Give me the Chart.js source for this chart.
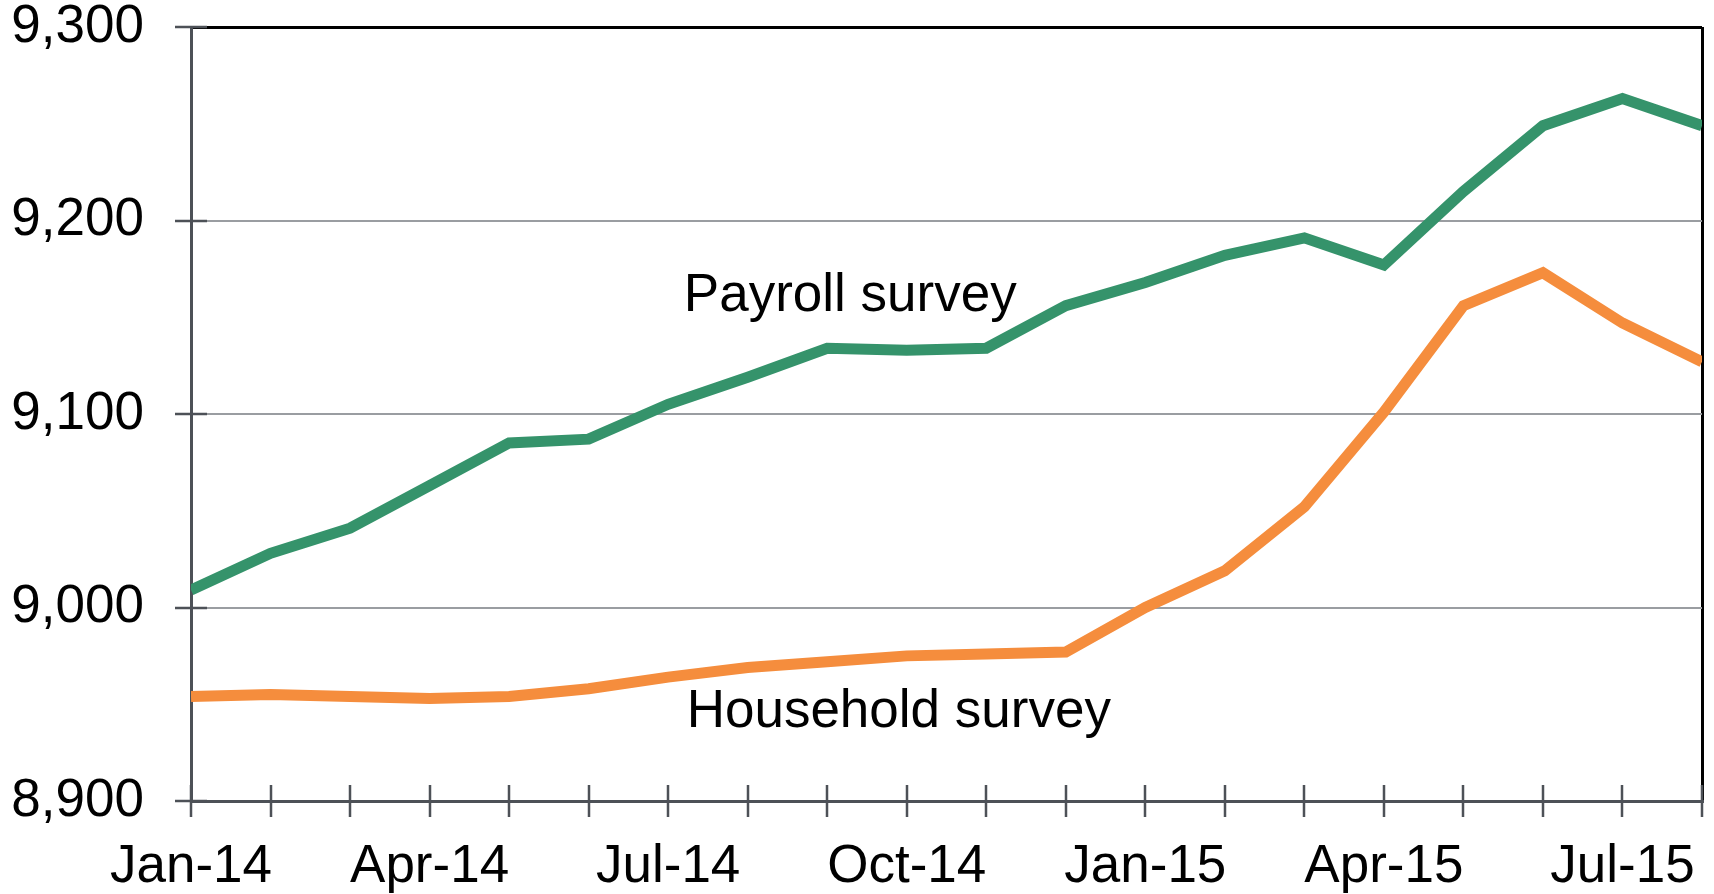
<!DOCTYPE html>
<html>
<head>
<meta charset="utf-8">
<script src="https://cdn.jsdelivr.net/npm/chart.js@4.4.1/dist/chart.umd.min.js"></script>
<style>
  html, body { margin: 0; padding: 0; background: #fff; }
  .chart-container { width: 1714px; height: 894px; position: relative; }
</style>
</head>
<body>
<div class="chart-container">
  <canvas id="myChart"></canvas>
</div>
<script>
// months, Jan-14 .. Aug-15
const months = ['Jan-14', 'Feb-14', 'Mar-14', 'Apr-14', 'May-14', 'Jun-14', 'Jul-14', 'Aug-14', 'Sep-14', 'Oct-14',
  'Nov-14', 'Dec-14', 'Jan-15', 'Feb-15', 'Mar-15', 'Apr-15', 'May-15', 'Jun-15', 'Jul-15', 'Aug-15'];

const payroll = [9009, 9028, 9041, 9063, 9085, 9087, 9105, 9119, 9134, 9133,
  9134, 9156, 9168, 9182, 9191, 9177, 9215, 9249, 9263, 9249];

const household = [8954, 8955, 8954, 8953, 8954, 8958, 8964, 8969, 8972, 8975,
  8976, 8977, 9000, 9019, 9052, 9101, 9156, 9173, 9147, 9127];

const yTicks = [8900, 9000, 9100, 9200, 9300];

const seriesNames = ['Payroll survey', 'Household survey'];

const FONT = "'Liberation Sans', Arial, sans-serif";

// text labels placed next to the lines (x in month index, y in data units)
const annotations = [
  { text: seriesNames[0], x: 8.29, y: 9153 },
  { text: seriesNames[1], x: 8.9, y: 8938 }
];

const crossTicks = {
  id: 'crossTicks',
  beforeDatasetsDraw(chart) {
    const ctx = chart.ctx;
    const xs = chart.scales.x, ys = chart.scales.y;
    const len = 16;
    ctx.save();
    ctx.strokeStyle = '#4d5157';
    ctx.lineWidth = 2.5;
    ctx.beginPath();
    xs.ticks.forEach((t, i) => {
      const px = Math.round(xs.getPixelForTick(i));
      ctx.moveTo(px, ys.bottom - len);
      ctx.lineTo(px, ys.bottom + len);
    });
    ys.ticks.forEach((t, i) => {
      const py = Math.round(ys.getPixelForTick(i));
      ctx.moveTo(xs.left - len, py);
      ctx.lineTo(xs.left + len, py);
    });
    ctx.stroke();
    ctx.restore();
  },
  afterDatasetsDraw(chart) {
    const ctx = chart.ctx;
    const xs = chart.scales.x, ys = chart.scales.y;
    ctx.save();
    ctx.font = '53px ' + FONT;
    ctx.fillStyle = '#000';
    ctx.textAlign = 'center';
    ctx.textBaseline = 'alphabetic';
    annotations.forEach(a => {
      ctx.fillText(a.text, xs.getPixelForValue(a.x), ys.getPixelForValue(a.y));
    });
    ctx.restore();
  }
};

const canvas = document.getElementById('myChart');
const ctx = canvas.getContext('2d');
const myChart = new Chart(ctx, {
  type: 'line',
  data: {
    labels: months,
    datasets: [{
      label: seriesNames[0],
      data: payroll,
      borderColor: '#35936b',
      borderWidth: 11,
      pointRadius: 0,
      tension: 0,
      clip: 0,
      fill: false
    }, {
      label: seriesNames[1],
      data: household,
      borderColor: '#f58d3d',
      borderWidth: 11,
      pointRadius: 0,
      tension: 0,
      clip: 0,
      fill: false
    }]
  },
  options: {
    responsive: true,
    maintainAspectRatio: false,
    animation: false,
    layout: { padding: { top: 27, right: 12, left: 0, bottom: 0 } },
    plugins: {
      legend: { display: false },
      tooltip: { enabled: false }
    },
    scales: {
      x: {
        offset: false,
        afterFit(scale) {
          scale.height = 93;
          scale.paddingLeft = 0;
          scale.paddingRight = 0;
        },
        border: { color: '#4d5157', width: 3 },
        grid: {
          drawOnChartArea: true,
          drawTicks: false,
          lineWidth: 3,
          color: c => c.index === months.length - 1 ? '#000' : 'rgba(0,0,0,0)'
        },
        ticks: {
          autoSkip: false,
          maxRotation: 0,
          padding: 35,
          color: '#000',
          font: { family: FONT, size: 53 },
          callback: (v, i) => i % 3 === 0 ? months[i] : ''
        }
      },
      y: {
        min: yTicks[0],
        max: yTicks[yTicks.length - 1],
        afterFit(scale) {
          scale.width = 191;
          scale.paddingTop = 0;
          scale.paddingBottom = 0;
        },
        afterBuildTicks(scale) { scale.ticks = yTicks.map(v => ({ value: v })); },
        border: { color: '#4d5157', width: 3 },
        grid: {
          drawTicks: false,
          lineWidth: c => c.tick && c.tick.value === yTicks[yTicks.length - 1] ? 3 : 2,
          color: c => c.tick && c.tick.value === yTicks[yTicks.length - 1] ? '#000' : '#9a9da1'
        },
        ticks: {
          padding: 47,
          color: '#000',
          font: { family: FONT, size: 53 },
          callback: v => v.toLocaleString('en-US')
        }
      }
    }
  },
  plugins: [crossTicks]
});
</script>
</body>
</html>
